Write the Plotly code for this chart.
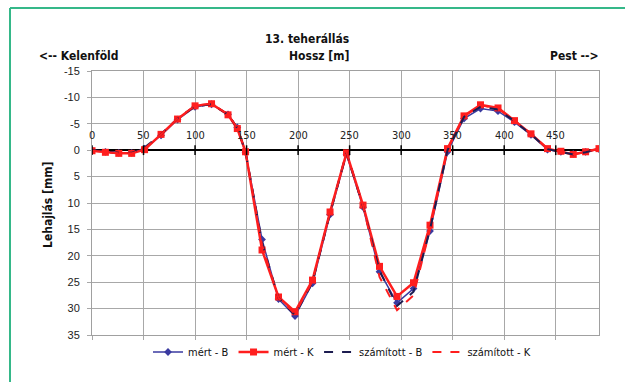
import plotly.graph_objects as go

# ---- data ----
x_pos = [0, 13, 26, 38.5, 51, 67, 83, 100, 116, 132, 141, 149, 165, 181, 197, 214, 231, 247,
         263, 279, 296, 312, 328, 345, 361, 377, 394, 410, 426, 442, 455, 467, 479, 492]
mert_B = [0.0, 0.3, 0.5, 0.5, -0.3, -2.8, -5.8, -8.2, -8.7, -6.8, -4.3, 0.4, 16.9, 28.2, 31.4, 25.2, 12.2, 0.8,
          10.8, 23.0, 28.9, 26.2, 15.3, 0.3, -6.0, -7.9, -7.4, -5.3, -2.9, -0.1, 0.3, 0.7, 0.3, -0.2]
mert_K = [0.1, 0.4, 0.6, 0.6, -0.1, -3.0, -5.9, -8.4, -8.8, -6.7, -4.1, 0.3, 18.9, 27.8, 30.6, 24.6, 11.7, 0.5,
          10.4, 22.0, 27.7, 25.1, 14.2, -0.3, -6.5, -8.6, -8.0, -5.6, -3.1, -0.3, 0.2, 0.8, 0.3, -0.3]
szam_B = [0.0, 0.3, 0.5, 0.5, -0.5, -3.0, -6.0, -8.3, -8.7, -6.8, -4.2, 0.3, 17.5, 28.0, 31.2, 25.0, 12.0, 0.5,
          10.6, 22.8, 29.5, 26.8, 15.0, 0.0, -6.3, -8.2, -7.7, -5.5, -3.0, -0.2, 0.3, 0.8, 0.4, -0.2]
szam_K = [0.1, 0.4, 0.6, 0.6, -0.3, -3.0, -6.0, -8.4, -8.8, -6.8, -4.2, 0.3, 18.0, 28.0, 31.0, 24.8, 11.8, 0.4,
          10.5, 24.0, 30.3, 27.5, 15.0, -0.2, -6.4, -8.5, -7.9, -5.6, -3.1, -0.3, 0.2, 0.8, 0.3, -0.3]

x_ticks = [0, 50, 100, 150, 200, 250, 300, 350, 400, 450]
x_tick_labels = [str(v) for v in x_ticks]
y_ticks = [-15, -10, -5, 0, 5, 10, 15, 20, 25, 30, 35]

title_text = "13. teherállás"
x_title = "Hossz [m]"
y_title = "Lehajlás [mm]"
left_label = "<-- Kelenföld"
right_label = "Pest -->"

BLUE = "#3a3aa0"
RED = "#ff1e1e"
NAVY = "#1c1c50"
FONT = "Liberation Sans Narrow, DejaVu Sans Condensed, Arial Narrow, Liberation Sans, sans-serif"

fig = go.Figure()
fig.add_trace(go.Scatter(x=x_pos, y=mert_B, name="mért - B", mode="lines+markers",
                         line=dict(color=BLUE, width=1.5),
                         marker=dict(symbol="diamond", size=6, color=BLUE)))
fig.add_trace(go.Scatter(x=x_pos, y=mert_K, name="mért - K", mode="lines+markers",
                         line=dict(color=RED, width=2.5),
                         marker=dict(symbol="square", size=7, color=RED)))
fig.add_trace(go.Scatter(x=x_pos, y=szam_B, name="számított - B", mode="lines",
                         line=dict(color=NAVY, width=2, dash="dash")))
fig.add_trace(go.Scatter(x=x_pos, y=szam_K, name="számított - K", mode="lines",
                         line=dict(color=RED, width=2, dash="dash")))
# small tick marks on zero line
fig.add_trace(go.Scatter(x=x_ticks, y=[0] * len(x_ticks), mode="markers", showlegend=False,
                         hoverinfo="skip",
                         marker=dict(symbol="line-ns-open", size=7, color="black",
                                     line=dict(color="black", width=1.5))))

annotations = []
for v, t in zip(x_ticks, x_tick_labels):
    annotations.append(dict(x=v, y=-2.7, xref="x", yref="y", text=t, showarrow=False,
                            font=dict(family=FONT, size=11, color="#222")))

W, H = 625, 382
L, R, T, B = 92, 599, 71, 335
pw, ph = R - L, B - T

def px(xp):
    return (xp - L) / pw

def py(yp):
    return (B - yp) / ph

annotations += [
    dict(x=px(351), y=py(30), xref="paper", yref="paper", text="<b>" + title_text + "</b>",
         showarrow=False, xanchor="right", font=dict(family=FONT, size=12, color="#111")),
    dict(x=px(352), y=py(47), xref="paper", yref="paper", text="<b>" + x_title + "</b>",
         showarrow=False, xanchor="right", font=dict(family=FONT, size=12, color="#111")),
    dict(x=px(37), y=py(47), xref="paper", yref="paper", text="<b>" + left_label + "</b>",
         showarrow=False, xanchor="left", font=dict(family=FONT, size=12, color="#111")),
    dict(x=px(601), y=py(47), xref="paper", yref="paper", text="<b>" + right_label + "</b>",
         showarrow=False, xanchor="right", font=dict(family=FONT, size=12, color="#111")),
    dict(x=px(39), y=py(205), xref="paper", yref="paper", text="<b>" + y_title + "</b>",
         showarrow=False, textangle=-90, font=dict(family=FONT, size=12, color="#111")),
]

GREEN = "#35b889"
shapes = [
    dict(type="line", xref="paper", yref="paper", x0=px(10), x1=px(W + 5), y0=py(8), y1=py(8),
         line=dict(color=GREEN, width=2)),
    dict(type="line", xref="paper", yref="paper", x0=px(10), x1=px(10), y0=py(8), y1=py(H + 5),
         line=dict(color=GREEN, width=2)),
]

fig.update_layout(
    width=W, height=H,
    margin=dict(l=L, r=W - R, t=T, b=H - B),
    paper_bgcolor="white", plot_bgcolor="white",
    showlegend=True,
    legend=dict(orientation="h", x=px(342), xanchor="center", y=py(352), yanchor="middle",
                font=dict(family=FONT, size=11, color="#111"), itemwidth=30,
                bgcolor="rgba(0,0,0,0)", tracegroupgap=0),
    annotations=annotations,
    shapes=shapes,
    font=dict(family=FONT),
)
fig.update_xaxes(range=[0, 492], tickmode="array", tickvals=x_ticks + [500], showticklabels=False,
                 showgrid=True, gridcolor="#a8a8a8", gridwidth=1,
                 ticks="outside", ticklen=4, tickcolor="#a8a8a8",
                 showline=True, linecolor="#a0a0a0", linewidth=1, mirror=True, zeroline=False)
fig.update_yaxes(range=[35, -15], tickmode="array", tickvals=y_ticks,
                 ticktext=[str(v) for v in y_ticks],
                 showgrid=True, gridcolor="#a8a8a8", gridwidth=1,
                 ticks="outside", ticklen=4, tickcolor="#a8a8a8", ticklabelstandoff=5,
                 tickfont=dict(family="Liberation Sans, Arial, sans-serif", size=11, color="#222"),
                 showline=True, linecolor="#a0a0a0", linewidth=1, mirror=True,
                 zeroline=True, zerolinecolor="black", zerolinewidth=2)

fig.write_html("out.html")
